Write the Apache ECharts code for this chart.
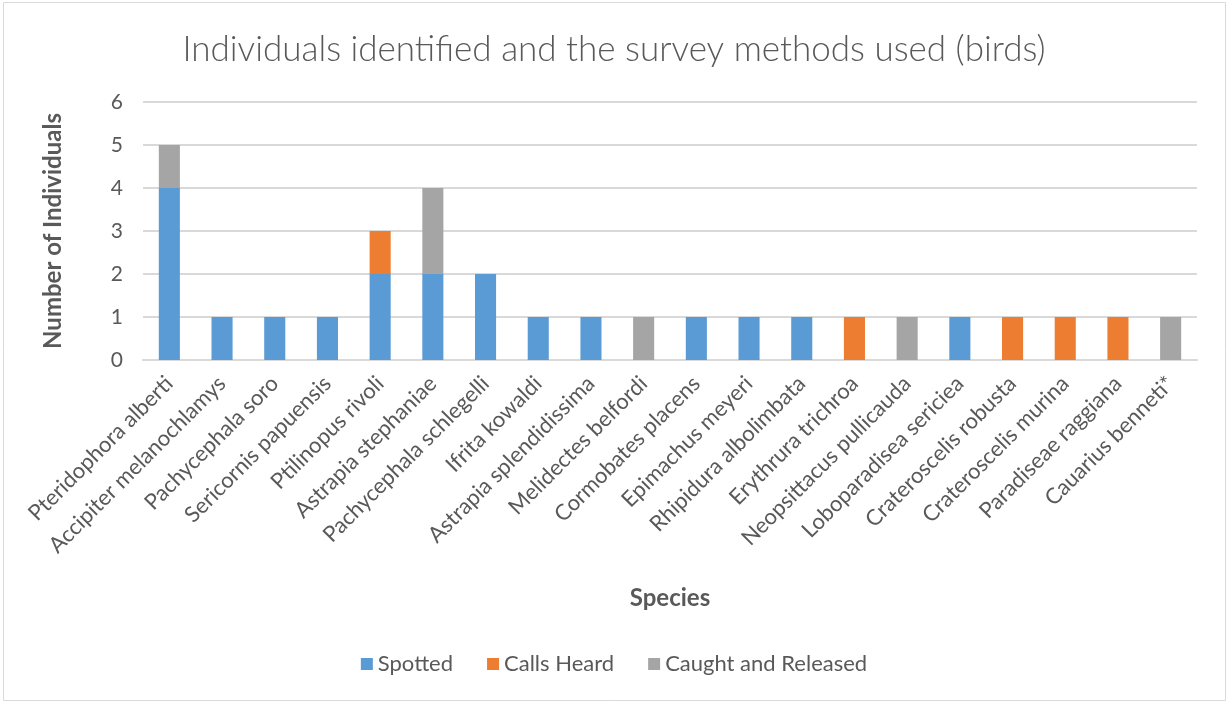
<!DOCTYPE html>
<html>
<head>
<meta charset="utf-8">
<script src="https://cdn.jsdelivr.net/npm/echarts@6/dist/echarts.min.js"></script>
<style>
  html, body { margin: 0; padding: 0; background: #fff; }
  #chart { width: 1228px; height: 704px; }
</style>
</head>
<body>
<div id="chart"></div>
<script>
// species on the x axis
var species = ['Pteridophora alberti', 'Accipiter melanochlamys', 'Pachycephala soro', 'Sericornis papuensis',
  'Ptilinopus rivoli', 'Astrapia stephaniae', 'Pachycephala schlegelli', 'Ifrita kowaldi',
  'Astrapia splendidissima', 'Melidectes belfordi', 'Cormobates placens', 'Epimachus meyeri',
  'Rhipidura albolimbata', 'Erythrura trichroa', 'Neopsittacus pullicauda', 'Loboparadisea sericiea',
  'Crateroscelis robusta', 'Crateroscelis murina', 'Paradiseae raggiana', 'Cauarius benneti*'];
// counts per survey method
var spotted = [4, 1, 1, 1, 2, 2, 2, 1, 1, 0, 1, 1, 1, 0, 0, 1, 0, 0, 0, 0];
var callsHeard = [0, 0, 0, 0, 1, 0, 0, 0, 0, 0, 0, 0, 0, 1, 0, 0, 1, 1, 1, 0];
var caught = [1, 0, 0, 0, 0, 2, 0, 0, 0, 1, 0, 0, 0, 0, 1, 0, 0, 0, 0, 1];
var yTicks = [0, 1, 2, 3, 4, 5, 6];

var font = 'Lato, "Open Sans", sans-serif';
var txt = '#595959';

var myChart = echarts.init(document.getElementById('chart'));

function barSeries(name, data, color) {
  return {
    name: name,
    type: 'bar',
    stack: 'total',
    barWidth: '40%',
    data: data,
    itemStyle: { color: color }
  };
}

myChart.setOption({
  animation: false,
  textStyle: { fontFamily: font },
  title: {
    text: 'Individuals identified and the survey methods used (birds)',
    left: 'center',
    top: 27,
    textStyle: { fontFamily: font, fontSize: 35, fontWeight: 300, color: txt }
  },
  graphic: [{
    type: 'rect',
    shape: { x: 3.5, y: 2.5, width: 1222, height: 698 },
    style: { fill: 'none', stroke: '#d9d9d9', lineWidth: 1 },
    silent: true
  }],
  legend: {
    bottom: 24,
    left: 'center',
    itemWidth: 12,
    itemHeight: 12,
    itemGap: 34,
    icon: 'rect',
    textStyle: { fontFamily: font, fontSize: 22, color: txt }
  },
  grid: { left: 143, right: 31, top: 102, bottom: 344 },
  xAxis: {
    type: 'category',
    data: species,
    name: 'Species',
    nameLocation: 'middle',
    nameGap: 226,
    nameTextStyle: { fontFamily: font, fontSize: 24, fontWeight: 'bold', color: txt },
    axisLine: { lineStyle: { color: '#d9d9d9', width: 2 } },
    axisTick: { show: false },
    axisLabel: { rotate: 45, fontSize: 22, color: txt, margin: 20, interval: 0 }
  },
  yAxis: {
    type: 'value',
    min: yTicks[0],
    max: yTicks[yTicks.length - 1],
    interval: 1,
    name: 'Number of Individuals',
    nameLocation: 'middle',
    nameGap: 78,
    nameTextStyle: { fontFamily: font, fontSize: 24, fontWeight: 'bold', color: txt },
    axisLine: { show: false },
    axisTick: { show: false },
    axisLabel: { fontSize: 21, color: txt, margin: 20 },
    splitLine: { lineStyle: { color: '#d9d9d9', width: 2 } }
  },
  series: [
    barSeries('Spotted', spotted, '#5b9bd5'),
    barSeries('Calls Heard', callsHeard, '#ed7d31'),
    barSeries('Caught and Released', caught, '#a5a5a5')
  ]
});
</script>
</body>
</html>
